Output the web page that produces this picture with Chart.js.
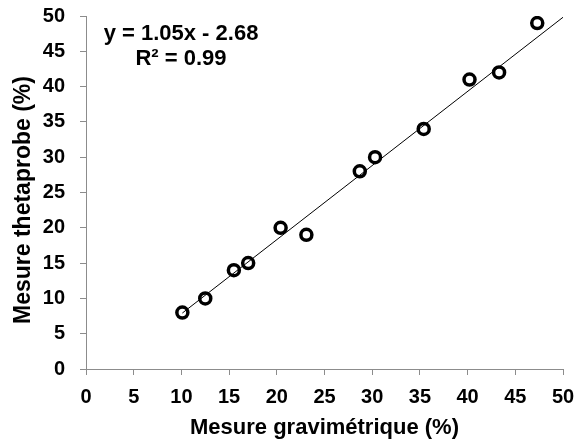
<!DOCTYPE html>
<html>
<head>
<meta charset="utf-8">
<script src="https://cdn.jsdelivr.net/npm/chart.js@4/dist/chart.umd.min.js"></script>
<style>
  html, body { margin: 0; padding: 0; background: #fff; }
</style>
</head>
<body>
<canvas id="chart" width="578" height="444"></canvas>
<script>
const gravimetric = [10.1, 12.5, 15.5, 17.0, 20.4, 23.1, 28.7, 30.3, 35.4, 40.2, 43.3, 47.3];
const thetaprobe  = [8, 10, 14, 15, 20, 19, 28, 30, 34, 41, 42, 49];

// linear fit shown on the chart
const slope = 1.05;
const intercept = -2.68;
const trendX = [10.1, 50];
const equationLines = ['y = 1.05x - 2.68', 'R² = 0.99'];

const xTitle = 'Mesure gravimétrique (%)';
const yTitle = 'Mesure thetaprobe (%)';

const FONT = '"Liberation Sans", Arial, sans-serif';
const AXIS_GREY = '#8c8c8c';

const points = gravimetric.map((x, i) => ({ x: x, y: thetaprobe[i] }));
const trend = trendX.map(x => ({ x: x, y: slope * x + intercept }));

// writes the regression equation and the y title (Excel centres it a bit lower than the axis)
const textPlugin = {
  id: 'texts',
  afterDraw(chart) {
    const ctx = chart.ctx;
    ctx.save();
    ctx.fillStyle = '#000';
    ctx.font = 'bold 22px ' + FONT;
    ctx.textAlign = 'center';
    ctx.textBaseline = 'alphabetic';
    ctx.fillText(equationLines[0], 181, 40);
    ctx.fillText(equationLines[1], 181, 65);

    ctx.font = 'bold 23px ' + FONT;
    ctx.textBaseline = 'middle';
    ctx.translate(24, 200);
    ctx.rotate(-Math.PI / 2);
    ctx.fillText(yTitle, 0, 0);
    ctx.restore();
  }
};

new Chart(document.getElementById('chart'), {
  type: 'scatter',
  data: {
    datasets: [
      {
        label: 'points',
        data: points,
        order: 1,
        pointStyle: 'circle',
        pointRadius: 5.5,
        pointHoverRadius: 5.5,
        pointBorderWidth: 3.5,
        borderColor: '#000',
        backgroundColor: 'rgba(0,0,0,0)',
        showLine: false
      },
      {
        type: 'line',
        label: 'trend',
        data: trend,
        order: 2,
        borderColor: '#000',
        borderWidth: 1,
        pointRadius: 0,
        fill: false
      }
    ]
  },
  options: {
    responsive: false,
    animation: false,
    layout: { autoPadding: false, padding: 0 },
    plugins: {
      legend: { display: false },
      tooltip: { enabled: false }
    },
    scales: {
      x: {
        type: 'linear',
        min: 0,
        max: 50,
        afterFit(scale) {
          scale.height = 75;
          scale.paddingRight = 15;
          scale.paddingLeft = 0;
        },
        border: { color: AXIS_GREY, width: 1 },
        grid: { drawOnChartArea: false, color: AXIS_GREY, tickLength: 6 },
        ticks: {
          stepSize: 5,
          padding: 10,
          maxRotation: 0,
          color: '#000',
          font: { family: FONT, size: 20, weight: 'bold' }
        },
        title: {
          display: true,
          text: xTitle,
          color: '#000',
          padding: { top: 0, bottom: 3 },
          font: { family: FONT, size: 22, weight: 'bold' }
        }
      },
      y: {
        type: 'linear',
        min: 0,
        max: 50,
        afterFit(scale) {
          scale.width = 86;
          scale.paddingTop = 16;
          scale.paddingBottom = 0;
        },
        border: { color: AXIS_GREY, width: 1 },
        grid: { drawOnChartArea: false, color: AXIS_GREY, tickLength: 6 },
        ticks: {
          stepSize: 5,
          padding: 15,
          color: '#000',
          font: { family: FONT, size: 20, weight: 'bold' }
        },
        title: { display: false }
      }
    }
  },
  plugins: [textPlugin]
});
</script>
</body>
</html>
